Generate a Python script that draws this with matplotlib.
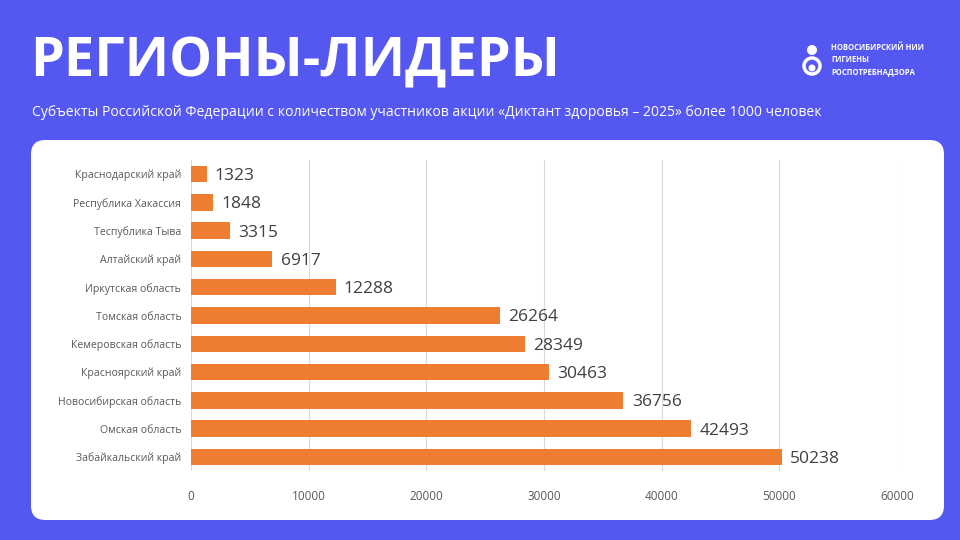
import matplotlib.pyplot as plt
from matplotlib.patches import FancyBboxPatch, Ellipse

plt.rcParams['font.family'] = ['Open Sans', 'DejaVu Sans']

regions = ['Забайкальский край', 'Омская область', 'Новосибирская область',
           'Красноярский край', 'Кемеровская область', 'Томская область',
           'Иркутская область', 'Алтайский край', 'Теспублика Тыва',
           'Республика Хакассия', 'Краснодарский край']
counts = [50238, 42493, 36756, 30463, 28349, 26264, 12288, 6917, 3315, 1848, 1323]
xticks = [0, 10000, 20000, 30000, 40000, 50000, 60000]

bg = '#5558f0'
orange = '#ed7d31'

fig = plt.figure(figsize=(9.6, 5.4), dpi=100)
fig.patch.set_facecolor(bg)


def px(x, y):
    return x / 960, 1 - y / 540


# white panel
panel = FancyBboxPatch((31/960, 20/540), 913/960, 380/540,
                       boxstyle='round,pad=0,rounding_size=0.015',
                       transform=fig.transFigure, facecolor='white',
                       edgecolor='none', mutation_aspect=960/540, zorder=-1)
fig.patches.append(panel)

fig.text(30/960, 1 - 62/540, 'РЕГИОНЫ-ЛИДЕРЫ', color='white', fontsize=39,
         fontweight='bold', va='center', ha='left')
fig.text(32/960, 1 - 112/540,
         'Субъекты Российской Федерации с количеством участников акции «Диктант здоровья – 2025» более 1000 человек',
         color='white', fontsize=10.05, va='center', ha='left')

# logo
fig.patches.append(Ellipse(px(812, 50), 10/960, 10/540, transform=fig.transFigure,
                           facecolor='white', edgecolor='none'))
fig.patches.append(Ellipse(px(812, 66), 16/960, 16/540, transform=fig.transFigure,
                           facecolor='none', edgecolor='white', linewidth=2.5))
fig.patches.append(Ellipse(px(812, 68), 7/960, 7/540, transform=fig.transFigure,
                           facecolor='white', edgecolor='none'))
for i, line in enumerate(['НОВОСИБИРСКИЙ НИИ', 'ГИГИЕНЫ', 'РОСПОТРЕБНАДЗОРА']):
    fig.text(831/960, 1 - (48 + i * 12) / 540, line, color='white', fontsize=5.5,
             fontweight='bold', va='center', ha='left')

ax = fig.add_axes([191/960, 1 - 471/540, 706/960, 311/540])
ax.set_facecolor('white')
ax.barh(range(len(regions)), counts, height=0.58, color=orange, zorder=3)
for i, v in enumerate(counts):
    ax.text(v + 700, i - 0.07, str(v), va='center', ha='left', fontsize=12.5,
            color='#404040', zorder=4)
ax.set_xlim(0, 60000)
ax.set_ylim(-0.5, len(regions) - 0.5)
ax.set_xticks(xticks)
ax.set_xticklabels([str(t) for t in xticks], fontsize=8.5, color='#595959')
ax.set_yticks(range(len(regions)))
ax.set_yticklabels(regions, fontsize=7.6, color='#595959')
ax.grid(axis='x', color='#d9d9d9', linewidth=0.8, zorder=0)
ax.tick_params(length=0)
ax.tick_params(axis='x', pad=14)
ax.tick_params(axis='y', pad=7)
for s in ax.spines.values():
    s.set_visible(False)

fig.savefig('out.png', dpi=100, facecolor=bg)
